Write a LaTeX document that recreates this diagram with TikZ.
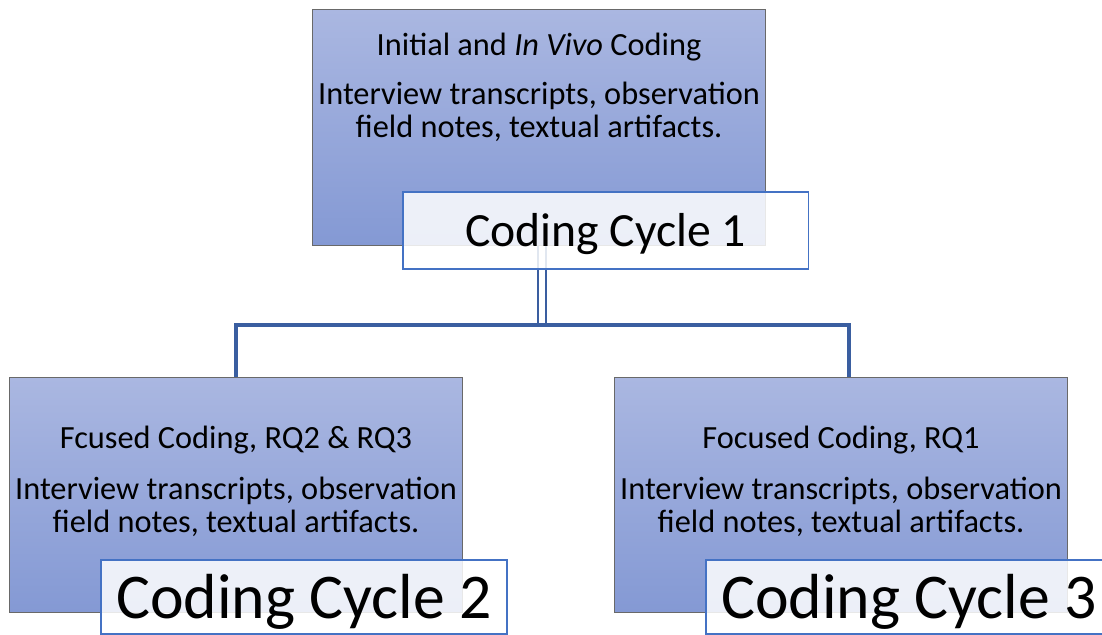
\documentclass[tikz,border=0pt]{standalone}
\usepackage{fontspec}
\setmainfont{Carlito}
\usetikzlibrary{positioning,calc}
\definecolor{boxtop}{RGB}{170,183,225}
\definecolor{boxbot}{RGB}{132,153,212}
\definecolor{boxline}{RGB}{105,105,105}
\definecolor{tagline}{RGB}{68,114,196}
\definecolor{linkblue}{RGB}{58,94,160}

\begin{document}
\begin{tikzpicture}[
		x=0.025cm,y=-0.025cm,
		cycbox/.style={draw=boxline,line width=0.7pt,shading=axis,top color=boxtop,bottom color=boxbot,minimum width=11.3cm,minimum height=5.875cm,inner sep=0pt},
		tag/.style={draw=tagline,line width=0.8pt,fill=white,fill opacity=0.85,text opacity=1,minimum width=10.15cm,minimum height=1.85cm,inner sep=0pt,text depth=0.1em},
		head/.style={font=\fontsize{23}{27}\selectfont,anchor=base,inner sep=0pt},
		src/.style={head,align=center,font=\fontsize{23}{22.8}\selectfont},
		link/.style={linkblue,line width=2.3pt,line join=miter},
		dbl/.style={linkblue,line width=1.5pt,double=white,double distance=4.2pt}
		]
	\useasboundingbox (0,0) rectangle (1102,634);

	\node[cycbox] (top) at (539,127.5) {};
	\node[cycbox] (left) at (236,495) {};
	\node[cycbox] (right) at (841,495) {};

	\node[head] (toptitle) at (539,55) {Initial and \textit{In Vivo} Coding};
	\node[src] (topsrc) at (539,137) {Interview transcripts, observation\\field notes, textual artifacts.};
	\node[head] (lefttitle) at (236,448) {Fcused Coding, RQ2 \& RQ3};
	\node[src] (leftsrc) at (236,532) {Interview transcripts, observation\\field notes, textual artifacts.};
	\node[head] (righttitle) at (841,448) {Focused Coding, RQ1};
	\node[src] (rightsrc) at (841,532) {Interview transcripts, observation\\field notes, textual artifacts.};

	% tree lines
	\coordinate (hub) at (542,325);
	\draw[dbl] (hub |- top.south) -- (hub);
	\draw[link] (left.north) |- (hub) -| ([xshift=0.2cm]right.north);

	\node[tag,font=\fontsize{33.9}{40}\selectfont,minimum width=10.125cm,minimum height=1.925cm] (cyc1) at (605.5,230.5) {Coding Cycle 1};
	\node[tag,font=\fontsize{45.3}{54}\selectfont] (cyc2) at (304,597) {Coding Cycle 2};
	\node[tag,font=\fontsize{45.3}{54}\selectfont] (cyc3) at (909,597) {Coding Cycle 3};
\end{tikzpicture}
\end{document}
